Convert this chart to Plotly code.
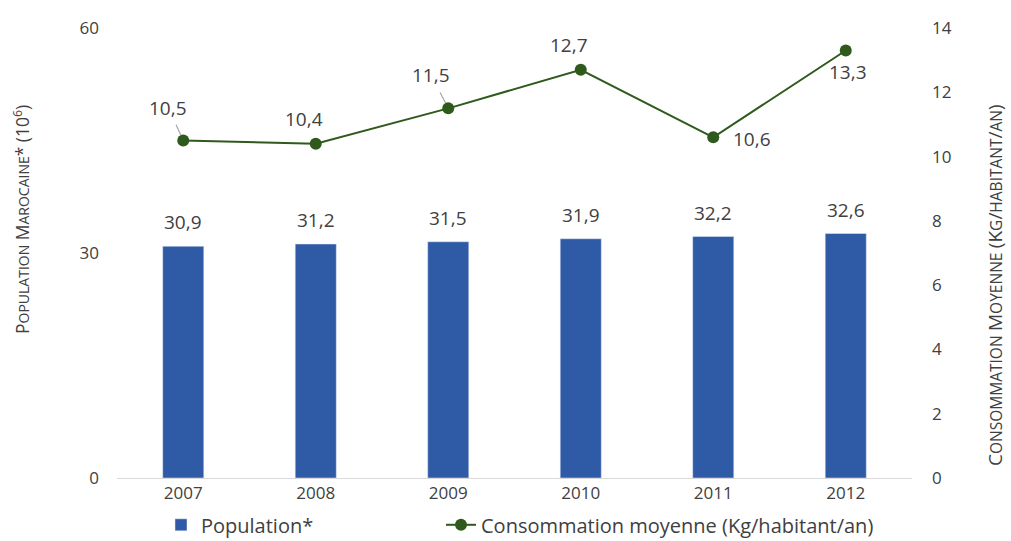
import plotly.graph_objects as go

years = ["2007", "2008", "2009", "2010", "2011", "2012"]
population = [30.9, 31.2, 31.5, 31.9, 32.2, 32.6]
consommation = [10.5, 10.4, 11.5, 12.7, 10.6, 13.3]
left_ticks = [0, 30, 60]
right_ticks = [0, 2, 4, 6, 8, 10, 12, 14]

# label offsets for line labels (pixels): (dx, dy, leader line)
line_label_pos = [(-15, -33, True), (-12, -25, False), (-17, -33, True),
                  (-12, -25, False), (39, 2, False), (2, 21, False)]

BLUE = "#2F5AA6"
GREEN = "#2E5A1C"
FONT = "Open Sans"
TXT = "#404040"


def fr(v):
    return f"{v:.1f}".replace(".", ",")


def smallcaps(s, big=12, small=9.5):
    out = []
    for word in s.split(" "):
        w = ""
        first = True
        for ch in word:
            if ch.isalpha() and first:
                w += f"<span style='font-size:{big}px'>{ch.upper()}</span>"
                first = False
            elif ch.isalpha():
                w += f"<span style='font-size:{small}px'>{ch.upper()}</span>"
            else:
                w += f"<span style='font-size:{big}px'>{ch}</span>"
                if ch == "(":
                    first = True
        out.append(w)
    return " ".join(out)


fig = go.Figure()
fig.add_trace(go.Bar(x=years, y=population, name="Population*",
                     marker_color=BLUE, width=0.31, yaxis="y", legend="legend"))
fig.add_trace(go.Scatter(x=years, y=consommation, name="Consommation moyenne (Kg/habitant/an)",
                         mode="lines+markers", yaxis="y2", legend="legend2",
                         line=dict(color=GREEN, width=2),
                         marker=dict(color=GREEN, size=12)))

ann = []
for i, v in enumerate(population):
    ann.append(dict(x=i, y=v, xref="x", yref="y", text=fr(v), showarrow=False,
                    yshift=24, font=dict(size=19, color=TXT, family=FONT)))
for i, (v, (dx, dy, arr)) in enumerate(zip(consommation, line_label_pos)):
    if arr:
        ann.append(dict(x=i, y=v, xref="x", yref="y2", text=fr(v), showarrow=True,
                        arrowhead=0, arrowwidth=1.2, arrowcolor="#A6A6A6",
                        ax=dx, ay=dy, standoff=6, startstandoff=3,
                        font=dict(size=19, color=TXT, family=FONT)))
    else:
        ann.append(dict(x=i, y=v, xref="x", yref="y2", text=fr(v), showarrow=False,
                        xshift=dx, yshift=-dy,
                        font=dict(size=19, color=TXT, family=FONT)))

ann.append(dict(x=(21 - 117) / 795, y=(478 - 220) / 450, xref="paper", yref="paper",
                xanchor="center", yanchor="middle", textangle=-90,
                text=smallcaps("Population Marocaine*", 17.5, 14) +
                " <span style='font-size:17.5px'>(10<sup>6</sup>)</span>",
                showarrow=False, font=dict(color=TXT, family=FONT)))
ann.append(dict(x=(995 - 117) / 795, y=(478 - 285) / 450, xref="paper", yref="paper",
                xanchor="center", yanchor="middle", textangle=-90,
                text=smallcaps("Consommation moyenne (Kg/habitant/an)", 19, 15.5),
                showarrow=False, font=dict(color=TXT, family=FONT)))

fig.update_layout(
    width=1011, height=541,
    margin=dict(l=117, r=99, t=28, b=63, autoexpand=False),
    paper_bgcolor="white", plot_bgcolor="white",
    font=dict(family=FONT, color=TXT, size=17),
    xaxis=dict(type="category", range=[-0.5, 5.5], showline=True, linecolor="#D9D9D9",
               linewidth=1, ticks="", tickfont=dict(size=17, color=TXT), showgrid=False),
    yaxis=dict(range=[0, 60], tickvals=left_ticks, showgrid=False, zeroline=False,
               tickfont=dict(size=17, color=TXT), ticklabelstandoff=17),
    yaxis2=dict(range=[0, 14], tickvals=right_ticks, overlaying="y", side="right",
                showgrid=False, zeroline=False, tickfont=dict(size=17, color=TXT),
                ticklabelstandoff=19),
    showlegend=True,
    legend=dict(orientation="h", x=(161 - 117) / 795, y=-0.104, xanchor="left",
                yanchor="middle", font=dict(size=20, color=TXT, family=FONT)),
    legend2=dict(orientation="h", x=(441 - 117) / 795, y=-0.104, xanchor="left",
                 yanchor="middle", font=dict(size=20, color=TXT, family=FONT)),
    annotations=ann,
)

fig.write_html("out.html", config={"displayModeBar": False})

# remove the default page margin so the figure sits at the window's top-left corner
with open("out.html", encoding="utf-8") as f:
    html = f.read()
html = html.replace("<head>", "<head><style>html,body{margin:0;padding:0;overflow:hidden;}</style>", 1)
with open("out.html", "w", encoding="utf-8") as f:
    f.write(html)
